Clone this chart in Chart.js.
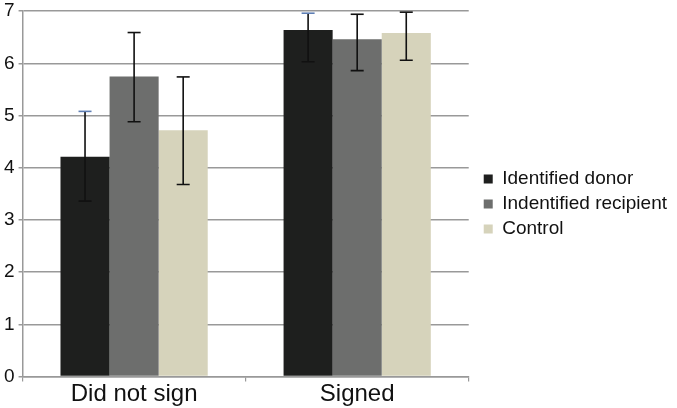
<!DOCTYPE html>
<html>
<head>
<meta charset="utf-8">
<script src="https://cdn.jsdelivr.net/npm/chart.js@4"></script>
<style>
  html, body { margin: 0; padding: 0; background: #fff; }
  #wrap { width: 677px; height: 408px; }
</style>
</head>
<body>
<div id="wrap"><canvas id="chart"></canvas></div>
<script>
const categories = ['Did not sign', 'Signed'];
const seriesNames = ['Identified donor', 'Indentified recipient', 'Control'];
const seriesColors = ['#1e1f1e', '#6d6e6d', '#d6d3bb'];

const donorMeans = [4.21, 6.64];
const recipientMeans = [5.75, 6.46];
const controlMeans = [4.72, 6.58];

const donorUpper = [5.08, 6.96];
const donorLower = [3.36, 6.03];
const recipientUpper = [6.59, 6.94];
const recipientLower = [4.88, 5.86];
const controlUpper = [5.74, 6.98];
const controlLower = [3.68, 6.06];

const yTicks = [0, 1, 2, 3, 4, 5, 6, 7];

const means = [donorMeans, recipientMeans, controlMeans];
const uppers = [donorUpper, recipientUpper, controlUpper];
const lowers = [donorLower, recipientLower, controlLower];

const font = 'Liberation Sans, Arial, sans-serif';

// draws the whiskers from the upper/lower arrays on the library's y scale
const errorBars = {
  id: 'errorBars',
  afterDatasetsDraw(chart) {
    const ctx = chart.ctx;
    const y = chart.scales.y;
    chart.data.datasets.forEach((ds, i) => {
      const meta = chart.getDatasetMeta(i);
      meta.data.forEach((bar, j) => {
        const top = y.getPixelForValue(uppers[i][j]);
        const bot = y.getPixelForValue(lowers[i][j]);
        const cap = 6.5;
        ctx.save();
        ctx.lineWidth = 1.6;
        ctx.strokeStyle = '#111';
        ctx.beginPath();
        ctx.moveTo(bar.x, top);
        ctx.lineTo(bar.x, bot);
        ctx.moveTo(bar.x - cap, bot);
        ctx.lineTo(bar.x + cap, bot);
        ctx.stroke();
        ctx.strokeStyle = i === 0 ? '#5f7fb5' : '#111';
        ctx.beginPath();
        ctx.moveTo(bar.x - cap, top);
        ctx.lineTo(bar.x + cap, top);
        ctx.stroke();
        ctx.restore();
      });
    });
  }
};

new Chart(document.getElementById('chart'), {
  type: 'bar',
  data: {
    labels: categories,
    datasets: seriesNames.map((name, i) => ({
      label: name,
      data: means[i],
      backgroundColor: seriesColors[i],
      borderWidth: 0,
      categoryPercentage: 0.66,
      barPercentage: 1.0
    }))
  },
  options: {
    responsive: true,
    maintainAspectRatio: false,
    animation: false,
    layout: { padding: { top: 0, right: 0, left: 0, bottom: 0 } },
    plugins: {
      tooltip: { enabled: false },
      legend: {
        position: 'right',
        maxWidth: 240,
        labels: {
          boxWidth: 9,
          boxHeight: 9,
          padding: 6,
          color: '#111',
          font: { family: font, size: 19 }
        }
      }
    },
    scales: {
      x: {
        grid: {
          drawOnChartArea: false,
          color: '#999',
          lineWidth: 1.2,
          tickLength: 5
        },
        border: { color: '#999', width: 1.5 },
        ticks: {
          color: '#111',
          padding: 0,
          font: { family: font, size: 24, lineHeight: 1.1 }
        }
      },
      y: {
        min: 0,
        max: 7,
        afterBuildTicks(axis) {
          axis.ticks = yTicks.map(v => ({ value: v }));
        },
        grid: {
          color: '#999',
          lineWidth: 1.5,
          tickLength: 4
        },
        border: { color: '#999', width: 1.5 },
        ticks: {
          color: '#111',
          padding: 4,
          font: { family: font, size: 19, lineHeight: 0.75 }
        }
      },
      // empty spacer between the plot and the legend
      gap: {
        type: 'linear',
        position: 'right',
        display: true,
        grid: { display: false },
        border: { display: false },
        ticks: { display: false },
        afterFit(scale) { scale.width = 9; }
      }
    }
  },
  plugins: [errorBars]
});
</script>
</body>
</html>
